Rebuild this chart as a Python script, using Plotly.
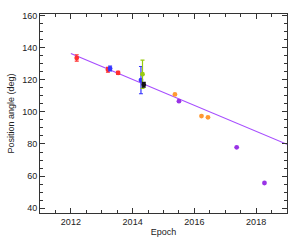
import plotly.graph_objects as go

red_x = [2012.19, 2013.20, 2013.53]
red_y = [133.6, 126.2, 124.3]
red_e = [2.0, 1.5, 1.0]

blue_x = [2013.27, 2014.27]
blue_y = [127.0, 119.8]
blue_e = [1.5, 8.5]

green_x = [2014.32]
green_y = [123.5]
green_e = [8.8]

black_x = [2014.36]
black_y = [116.9]
black_e = [1.5]

orange_x = [2015.37, 2016.23, 2016.44]
orange_y = [110.9, 97.4, 96.6]

purple_x = [2015.50, 2017.37, 2018.27]
purple_y = [106.7, 77.9, 55.7]

fit_x = [2012.0, 2019.0]
fit_y = [136.4, 79.8]

fig = go.Figure()
fig.add_trace(go.Scatter(x=fit_x, y=fit_y, mode="lines",
                         line=dict(color="#a64dff", width=1.2), hoverinfo="skip"))

def pts(x, y, c, e=None):
    kw = {}
    if e is not None:
        kw["error_y"] = dict(type="data", array=e, color=c, thickness=1.2, width=2)
    fig.add_trace(go.Scatter(x=x, y=y, mode="markers",
                             marker=dict(color=c, size=4.8, line=dict(width=0)), **kw))

pts(red_x, red_y, "#ff3030", red_e)
pts(blue_x, blue_y, "#3535ff", blue_e)
pts(green_x, green_y, "#99cc11", green_e)
pts(black_x, black_y, "#111111", black_e)
pts(orange_x, orange_y, "#ff9933")
pts(purple_x, purple_y, "#9933e6")

font = dict(family="Liberation Sans, Arial", size=9, color="#222222")
axis_common = dict(showgrid=False, zeroline=False, showline=True, linecolor="#333333",
                   linewidth=1, mirror="ticks", ticks="inside", tickcolor="#333333",
                   tickfont=font, automargin=False)

fig.update_xaxes(range=[2011, 2019], tickvals=[2012, 2014, 2016, 2018], ticklen=5,
                 minor=dict(dtick=0.5, tick0=2011, ticks="inside", ticklen=3, tickcolor="#333333"),
                 title=dict(text="Epoch", font=font, standoff=2),
                 **axis_common)
fig.update_yaxes(range=[37, 161], tickvals=[40, 60, 80, 100, 120, 140, 160], ticklen=5,
                 minor=dict(dtick=5, tick0=0, ticks="inside", ticklen=3, tickcolor="#333333"),
                 title=dict(text="Position angle (deg)", font=font, standoff=6),
                 **axis_common)

fig.update_layout(width=299, height=240, margin=dict(l=40, r=12, t=14, b=27),
                  plot_bgcolor="white", paper_bgcolor="white", showlegend=False)

fig.write_html("out.html", config={"displayModeBar": False},
               post_script="document.body.style.margin='0';document.body.style.overflow='hidden';")
